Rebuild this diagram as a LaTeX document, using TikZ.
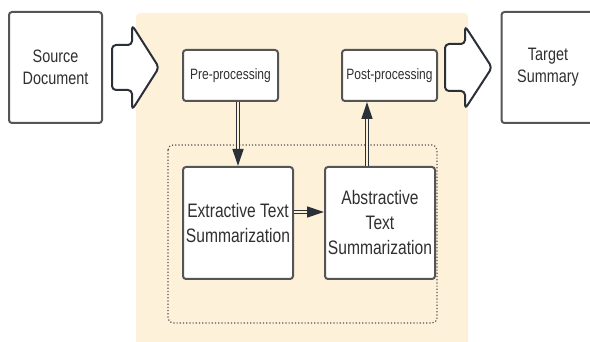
\documentclass[tikz,border=0pt]{standalone}
\usepackage{fontspec}
\setmainfont{Liberation Sans}[FakeStretch=0.8]
\usetikzlibrary{arrows.meta}
\definecolor{cream}{HTML}{FEF1D9}
\definecolor{edge}{HTML}{555555}
\definecolor{ink}{HTML}{2B2F38}
\definecolor{txt}{HTML}{303030}

\begin{document}
\begin{tikzpicture}[x=1pt,y=-1pt,
    box/.style={draw=edge, line width=2pt, rounded corners=3pt, fill=white,
      text=txt, align=center, inner sep=0pt},
    outer/.style={box, minimum width=93pt, minimum height=111pt,
      font=\fontsize{18}{22}\selectfont},
    stage/.style={box, minimum width=95pt, minimum height=51pt,
      font=\fontsize{15}{18}\selectfont},
    core/.style={box, minimum width=110pt, minimum height=112pt,
      font=\fontsize{19.5}{25}\selectfont},
    dbl/.style={draw=ink, line width=1.3pt, double=cream, double distance=1.8pt,
      -{Triangle[length=17pt,width=11pt]}},
    bigarrow/.style={draw=ink, line width=2pt, fill=white, rounded corners=4pt,
      line join=round}]
  \clip (0,0) rectangle (590,342);
  \fill[cream, rounded corners=4pt] (136,13) rectangle (468,360);
  \node[outer] (src) at (55.5,67.5) {Source\\Document};
  \node[outer] (tgt) at (548,67.5) {Target\\Summary};
  \node[stage] (pre) at (230.5,75.5) {Pre-processing};
  \node[stage] (post) at (389.5,75.5) {Post-processing};
  \draw[edge, line width=1.2pt, dotted, rounded corners=5pt] (168,145) rectangle (437,323);
  \node[core] (ext) at (238,223) {Extractive Text\\Summarization};
  \node[core] (abs) at (380,223) {Abstractive\\Text\\Summarization};
  % fat arrows in and out
  \draw[bigarrow] (112,45) -- (132,45) -- (132,25) -- (159,67.5) -- (132,110)
    -- (132,90) -- (112,90) -- cycle;
  \draw[bigarrow] (445,44) -- (465,44) -- (465,26) -- (492,67.5) -- (465,109)
    -- (465,91) -- (445,91) -- cycle;
  \draw[dbl] (pre.south -| ext.north) -- (ext.north);
  \draw[dbl] ([yshift=11pt]ext.east) -- ([yshift=11pt]abs.west);
  \draw[dbl] ([xshift=-13pt]abs.north) -- ([xshift=-13pt]abs.north |- post.south);
\end{tikzpicture}
\end{document}
